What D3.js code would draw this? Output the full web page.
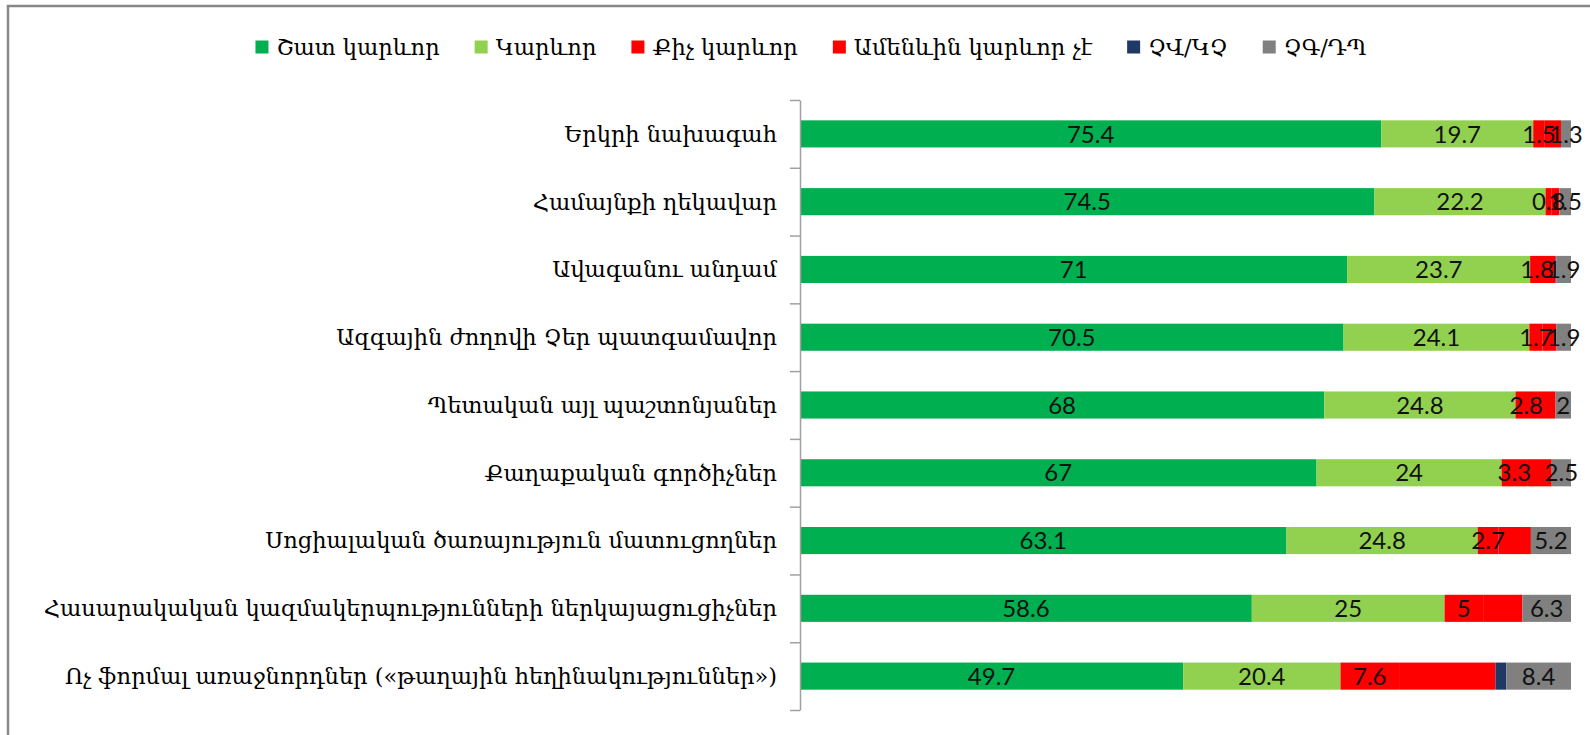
<!DOCTYPE html>
<html>
<head>
<meta charset="utf-8">
<script src="https://cdn.jsdelivr.net/npm/d3@7"></script>
<style>
	body { margin: 0; background: #fff; }
	svg { display: block; }
</style>
</head>
<body>
<svg id="bars" width="1590" height="735" viewBox="0 0 1590 735"></svg>
<script>
const categories = [
	"Երկրի նախագահ",
	"Համայնքի ղեկավար",
	"Ավագանու անդամ",
	"Ազգային ժողովի Չեր պատգամավոր",
	"Պետական այլ պաշտոնյաներ",
	"Քաղաքական գործիչներ",
	"Սոցիալական ծառայություն մատուցողներ",
	"Հասարակական կազմակերպությունների ներկայացուցիչներ",
	"Ոչ ֆորմալ առաջնորդներ («թաղային հեղինակություններ»)"
];
const series_names = ["Շատ կարևոր", "Կարևոր", "Քիչ կարևոր", "Ամենևին կարևոր չէ", "ՉՎ/ԿՉ", "ՉԳ/ԴՊ"];
const series_colors = ["#00b050", "#92d050", "#ff0000", "#ff0000", "#1f3864", "#808080"];
const very_important = [75.4, 74.5, 71, 70.5, 68, 67, 63.1, 58.6, 49.7];
const important = [19.7, 22.2, 23.7, 24.1, 24.8, 24, 24.8, 25, 20.4];
const less_important = [1.5, 0.8, 1.8, 1.7, 2.8, 3.3, 2.7, 5, 7.6];
const not_important = [2.1, 1.0, 1.5, 1.8, 2.4, 3.2, 4.2, 5.1, 12.5];
const refused = [0, 0, 0.1, 0, 0, 0, 0, 0, 1.4];
const dont_know = [1.3, 1.5, 1.9, 1.9, 2, 2.5, 5.2, 6.3, 8.4];
// only these series carry data labels in the original
const labelled_series = [0, 1, 2, 5];

class StackedBars {

	makeLegend() {
		const legend_g = this.svg.append("g").attr("id", "legend");
		const items = legend_g.selectAll(".legend-item")
			.data(series_names)
			.enter().append("g")
			.classed("legend-item", true);

		items.append("rect")
			.attr("width", 13)
			.attr("height", 13)
			.attr("y", -6.5)
			.style("fill", (d, i) => series_colors[i]);

		items.append("text")
			.attr("x", 21)
			.attr("dy", "0.35em")
			.text((d) => d)
			.style("font-family", "'DejaVu Serif', serif")
			.style("font-size", "22.5px")
			.style("fill", "#000");

		// lay the entries out one after another and centre the row
		let offsets = [];
		let x = 0;
		items.each(function() {
			offsets.push(x);
			x += 21 + this.querySelector("text").getComputedTextLength() + 35;
		});
		const total = x - 35;
		const start = 811 - total / 2;
		items.attr("transform", (d, i) => "translate(" + (start + offsets[i]) + ", 47)");
	}

	constructor(svg_element_id) {
		this.svg = d3.select('#' + svg_element_id);

		const rows = categories.map((name, i) => ({
			name: name,
			s0: very_important[i],
			s1: important[i],
			s2: less_important[i],
			s3: not_important[i],
			s4: refused[i],
			s5: dont_know[i]
		}));
		const keys = ["s0", "s1", "s2", "s3", "s4", "s5"];
		const stacked = d3.stack().keys(keys)(rows);

		const x_scale = d3.scaleLinear()
			.domain([0, 100])
			.range([800, 1571]);

		const y_scale = d3.scaleBand()
			.domain(categories)
			.range([100, 710])
			.paddingInner(0.6)
			.paddingOuter(0.3);

		// chart frame, cut by the window on the right and bottom
		this.svg.append("rect")
			.attr("x", 8)
			.attr("y", 6)
			.attr("width", 1620)
			.attr("height", 780)
			.style("fill", "none")
			.style("stroke", "#878787")
			.style("stroke-width", 2.5);

		this.makeLegend();

		const bar_g = this.svg.append("g").attr("id", "bars");
		bar_g.selectAll(".series")
			.data(stacked)
			.enter().append("g")
			.classed("series", true)
			.style("fill", (d, i) => series_colors[i])
			.selectAll("rect")
			.data((d) => d)
			.enter().append("rect")
			.attr("x", (d) => x_scale(d[0]))
			.attr("y", (d) => y_scale(d.data.name))
			.attr("width", (d) => x_scale(d[1]) - x_scale(d[0]))
			.attr("height", y_scale.bandwidth());

		// axis with ticks between the categories
		const boundary_scale = d3.scaleLinear()
			.domain([0, categories.length])
			.range([100, 710]);
		const y_axis = d3.axisLeft(boundary_scale)
			.tickValues(d3.range(categories.length + 1))
			.tickSize(10)
			.tickSizeOuter(0)
			.tickFormat("");
		const axis_g = this.svg.append("g")
			.attr("transform", "translate(800, 0)")
			.call(y_axis);
		axis_g.selectAll("line, path")
			.style("stroke", "#a0a0a0")
			.style("stroke-width", 1.5);

		this.svg.append("g").selectAll(".category-label")
			.data(categories)
			.enter().append("text")
			.classed("category-label", true)
			.attr("x", 777)
			.attr("y", (d) => y_scale(d) + y_scale.bandwidth() / 2)
			.attr("dy", "0.35em")
			.attr("text-anchor", "end")
			.text((d) => d)
			.style("font-family", "'DejaVu Serif', serif")
			.style("font-size", "22.5px")
			.style("fill", "#000");

		const label_g = this.svg.append("g").attr("id", "value-labels");
		labelled_series.forEach((k) => {
			label_g.selectAll(".value-" + k)
				.data(stacked[k])
				.enter().append("text")
				.attr("x", (d) => (x_scale(d[0]) + x_scale(d[1])) / 2)
				.attr("y", (d) => y_scale(d.data.name) + y_scale.bandwidth() / 2)
				.attr("dy", "0.36em")
				.attr("text-anchor", "middle")
				.text((d) => d.data["s" + k])
				.style("font-family", "Lato, sans-serif")
				.style("font-size", "24px")
				.style("fill", "#111");
		});
	}
}

function whenDocumentLoaded(action) {
	if (document.readyState === "loading") {
		document.addEventListener("DOMContentLoaded", action);
	} else {
		action();
	}
}

whenDocumentLoaded(() => {
	plot_object = new StackedBars('bars');
});
</script>
</body>
</html>
